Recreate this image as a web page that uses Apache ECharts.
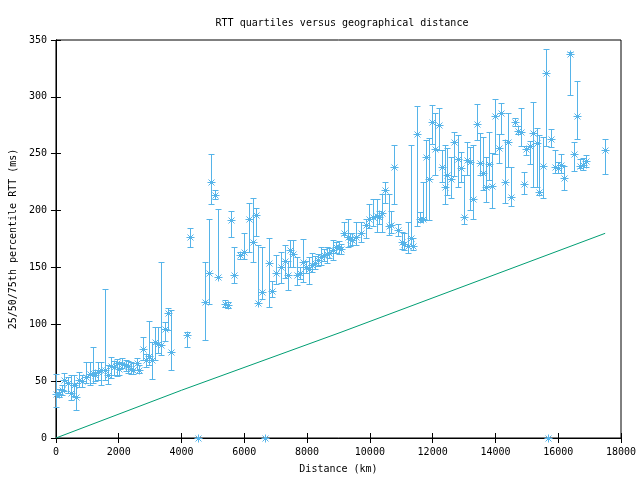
<!DOCTYPE html>
<html>
<head>
<meta charset="utf-8">
<script src="https://cdn.jsdelivr.net/npm/echarts@6/dist/echarts.min.js"></script>
<style>html,body{margin:0;padding:0;background:#fff}#c{width:640px;height:480px}</style>
</head>
<body>
<div id="c"></div>
<script>
// Distance (km)
var distances = [0,85,190,245,380,465,560,635,720,825,965,1090,1165,1250,1355,1440,1565,1670,1755,1845,1935,2010,2115,2220,2310,2390,2465,2570,2645,2760,2855,2965,3070,3150,3260,3345,3470,3555,3660,4170,4265,4540,4760,4870,4950,5060,5155,5400,5480,5565,5660,5875,5980,6160,6265,6370,6445,6570,6670,6775,6880,7015,7175,7290,7390,7470,7565,7675,7790,7885,7970,8055,8160,8265,8350,8445,8530,8625,8710,8815,8920,9005,9090,9185,9290,9375,9430,9555,9715,9875,9980,10105,10215,10295,10400,10485,10595,10680,10775,10900,11015,11100,11210,11305,11380,11495,11590,11695,11780,11885,11990,12075,12200,12285,12390,12465,12570,12680,12805,12890,12995,13100,13185,13295,13400,13495,13600,13685,13790,13875,14000,14105,14190,14295,14390,14485,14610,14720,14825,14900,14985,15090,15185,15320,15395,15500,15610,15680,15780,15905,15990,16095,16200,16390,16515,16610,16700,16805,16890,17495];
// 50th percentile RTT (ms)
var median = [39,39,42,51,48,40,47,36,51,50,54,56,57,55,58,60,60,55,63,62,66,61,65,64,63,61,60,66,60,78,69,72,69,84,83,82,96,110,76,90.6,176.5,0,120,145,225,214,142,118,117,192,143,161,164,193,172.6,196,119,128,0,154,129,145,150,156,143,165,162,143,145,154.5,150,149,152,154,156.5,159,161,162,162.5,165,168,168,166.5,180,176.5,175,174,177,180.5,187,193,194.6,195,194.6,197.6,218,186,187,238,183,172.6,171,169,176,169,267,193,193,247,227.5,277.6,254,275,238.6,221,231,228,260,245,237,194.6,244.5,243,210,276,241.6,232.8,221,241,221.6,283,254.8,285.5,225,260,211.7,278,270,269,223.4,254,257,268.5,259,216.6,239.5,320.7,0,263,238,237,240,229,337.7,249.5,283,239,240,244,253];
// 25th percentile RTT (ms)
var q25 = [27,36,38,41,40,33,37,25,45,45,48,47,48,50,51,47,51,47.5,53,55,54.5,55,61.5,59,57,56,56,60,57,69,62,64,52,68.6,74.7,73,85,95,60,80,168,0,86,118,206,210,142,115,114,177,136,157,157,164,155,178,119,122,0,115,124,135,136,141,130,150,150,134.5,140,137.5,145,135,146,149,151,152,156,153.6,158,156.5,163,162,162,178.5,168,169,170,170,172.6,175.6,185,186,181.4,188,181.4,207,178.5,180,206,178,166,165,163,169,165,186,190,191.7,192,192,258.5,231,253,225,206,213.7,210.8,230,221,225.4,188,231.3,200.5,193,262,231.3,218,207.8,226.9,202,250,242,267,207,238,204,274,267,256.8,215,249,241,220.5,221,213.7,210.8,256.8,0,255.6,233.3,233,233.3,218,301.6,234.8,262.7,237,236,238,232];
// 75th percentile RTT (ms)
var q75 = [56,43,47,57,54,55,55,48,58,55,67,67,80,60,67,67,131,64,71.5,68,69.5,67,70,69,68,67,66,70,64,89,74,103,84.7,97.6,97.6,155,102,114,113,93,185,0,155,193,250,218,201,121,120,200,168,164,180,207,211,202,170,168,0,176,138,161,164,170,156,174,174,159.4,150,174.7,156,159,163,160,162,168,166,168,167,174,172,173,171,190,193,180,180,190,190,193,206,210,210,200,214.6,225,214.6,200,258,188,181,180,190,258,176,292,199,225.4,262,263.5,292.8,286,290,253,257.7,254.8,247.4,269,266.5,251.8,231,260,256,257.7,294,268,264.4,247.4,269.4,250.4,298,267,295,262,285.5,238.6,281,274,290,234,257,261,295.7,272.6,266.5,264.4,341.8,0,271.5,253.3,243,249.5,239,339.7,260.6,314.2,245,246,249,262.7];
// Reference line (propagation bound)
var lineDist = [0,4000,9080,17495];
var lineRtt = [0,42,93,180];

var xTicks = {min:0,max:18000,interval:2000};
var yTicks = {min:0,max:350,interval:50};

var FONT = 'DejaVu Sans Mono';
var BLUE = '#56b4e9';
var GREEN = '#009e73';

var points = distances.map(function(d,i){return [d, median[i], q25[i], q75[i]];});
var linePts = lineDist.map(function(d,i){return [d, lineRtt[i]];});

function r(v){return Math.round(v)+0.5;}
function plain(v){return String(v);}

var chart = echarts.init(document.getElementById('c'), null, {renderer:'canvas'});
var axisCommon = {
  axisLine:{show:true,lineStyle:{color:'#000',width:1}},
  axisTick:{show:true,inside:true,length:5,lineStyle:{color:'#000'}},
  splitLine:{show:false}
};
chart.setOption({
  animation:false,
  backgroundColor:'#fff',
  title:{text:'RTT quartiles versus geographical distance',left:337,textAlign:'center',top:13,
    textStyle:{fontFamily:FONT,fontSize:10,fontWeight:'normal',color:'#000'}},
  grid:{left:54,right:19,top:40,bottom:42,show:true,borderColor:'#000',borderWidth:1},
  xAxis:[
    Object.assign({type:'value',position:'bottom',min:xTicks.min,max:xTicks.max,interval:xTicks.interval,
      name:'Distance (km)',nameLocation:'middle',nameGap:26,
      nameTextStyle:{fontFamily:FONT,fontSize:10,color:'#000'},
      axisLabel:{fontFamily:FONT,fontSize:10,color:'#000',margin:9,formatter:plain}},axisCommon),
    Object.assign({type:'value',position:'top',min:xTicks.min,max:xTicks.max,interval:xTicks.interval,
      axisLabel:{show:false}},axisCommon)
  ],
  yAxis:[
    Object.assign({type:'value',position:'left',min:yTicks.min,max:yTicks.max,interval:yTicks.interval,
      name:'25/50/75th percentile RTT (ms)',nameLocation:'middle',nameGap:37,
      nameTextStyle:{fontFamily:FONT,fontSize:10,color:'#000'},
      axisLabel:{fontFamily:FONT,fontSize:10,color:'#000',margin:9,formatter:plain}},axisCommon),
    Object.assign({type:'value',position:'right',min:yTicks.min,max:yTicks.max,interval:yTicks.interval,
      axisLabel:{show:false}},axisCommon)
  ],
  series:[
    {
      type:'line',xAxisIndex:0,yAxisIndex:0,data:linePts,symbol:'none',
      lineStyle:{color:GREEN,width:1},silent:true,z:2
    },
    {
      type:'custom',xAxisIndex:0,yAxisIndex:0,data:points,z:3,
      encode:{x:0,y:[1,2,3]},
      renderItem:function(params,api){
        var x = api.value(0);
        var pm = api.coord([x, api.value(1)]);
        var pl = api.coord([x, api.value(2)]);
        var ph = api.coord([x, api.value(3)]);
        var cx = r(pm[0]), cy = r(pm[1]);
        var yl = r(pl[1]), yh = r(ph[1]);
        var st = {stroke:BLUE,lineWidth:1,fill:null};
        var ch = [];
        if (Math.abs(yl-yh) > 0.1) {
          ch.push({type:'line',shape:{x1:cx,y1:yl,x2:cx,y2:yh},style:st});
          ch.push({type:'line',shape:{x1:cx-3,y1:yl,x2:cx+3,y2:yl},style:st});
          ch.push({type:'line',shape:{x1:cx-3,y1:yh,x2:cx+3,y2:yh},style:st});
        }
        ch.push({type:'line',shape:{x1:cx-4,y1:cy,x2:cx+4,y2:cy},style:st});
        ch.push({type:'line',shape:{x1:cx,y1:cy-4,x2:cx,y2:cy+4},style:st});
        ch.push({type:'line',shape:{x1:cx-3,y1:cy-3,x2:cx+3,y2:cy+3},style:st});
        ch.push({type:'line',shape:{x1:cx-3,y1:cy+3,x2:cx+3,y2:cy-3},style:st});
        return {type:'group',children:ch};
      }
    }
  ]
});
</script>
</body>
</html>
